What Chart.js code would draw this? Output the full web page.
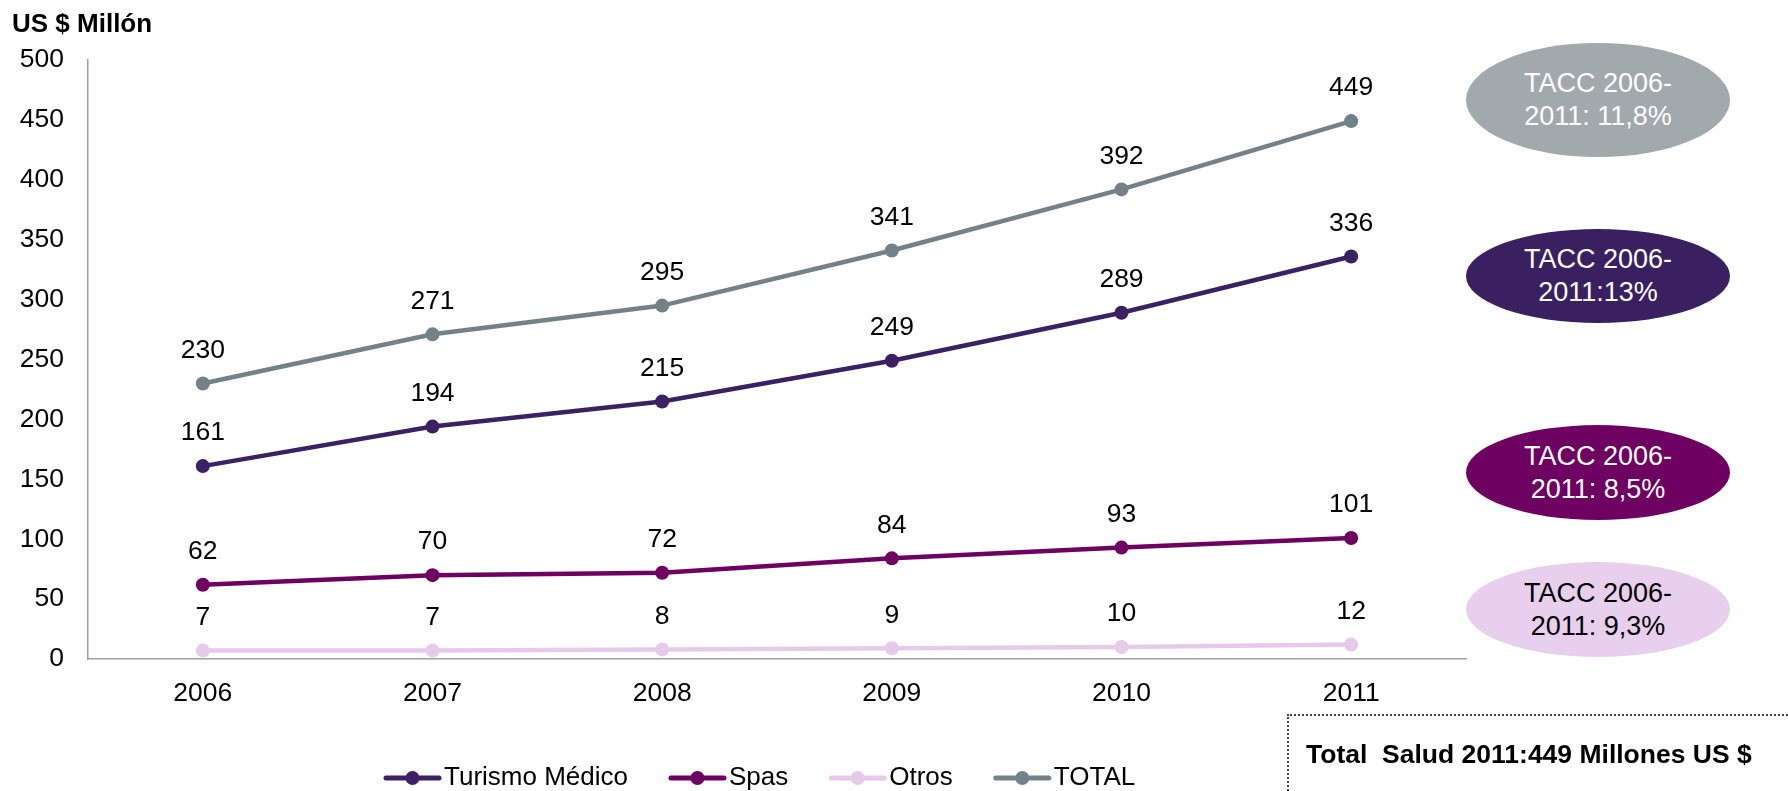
<!DOCTYPE html>
<html>
<head>
<meta charset="utf-8">
<script src="https://cdn.jsdelivr.net/npm/chart.js@4.4.0/dist/chart.umd.min.js"></script>
<style>
  body { margin: 0; background: #fff; font-family: "Liberation Sans", Arial, sans-serif; }
  #wrap { position: relative; width: 1788px; height: 791px; overflow: hidden; }
  #chart { position: absolute; left: 0; top: 0; }
  .title { position: absolute; left: 12px; top: 8px; font-size: 26px; font-weight: bold; color: #000; }
  .tacc {
    position: absolute; left: 1466px; width: 264px; border-radius: 50%;
    display: flex; align-items: center; justify-content: center; text-align: center;
    font-size: 27px; line-height: 33px; color: #fff;
  }
  .total-box {
    position: absolute; left: 1287px; top: 714px; width: 600px; height: 200px;
    border: 2px dotted #444; box-sizing: border-box;
  }
  .total-box span {
    position: absolute; left: 17px; top: 23px; font-size: 26.5px; font-weight: bold; white-space: pre;
  }
</style>
</head>
<body>
<div id="wrap">
  <canvas id="chart" width="1788" height="791"></canvas>
  <div class="title">US $ Millón</div>
  <div class="tacc" style="top:43px;height:114px;background:#a1a9ad;">TACC 2006-<br>2011: 11,8%</div>
  <div class="tacc" style="top:229px;height:94px;background:#3a2060;">TACC 2006-<br>2011:13%</div>
  <div class="tacc" style="top:425px;height:95px;background:#6e0062;">TACC 2006-<br>2011: 8,5%</div>
  <div class="tacc" style="top:562px;height:95px;background:#e8cfee;color:#000;">TACC 2006-<br>2011: 9,3%</div>
  <div class="total-box"><span>Total  Salud 2011:449 Millones US $</span></div>
</div>
<script>
  "use strict";

  // data
  const years = ['2006', '2007', '2008', '2009', '2010', '2011'];
  const turismoMedico = [161, 194, 215, 249, 289, 336];
  const spas = [62, 70, 72, 84, 93, 101];
  const otros = [7, 7, 8, 9, 10, 12];
  const total = [230, 271, 295, 341, 392, 449];
  const seriesNames = ['Turismo Médico', 'Spas', 'Otros', 'TOTAL'];
  const seriesColors = ['#3b2163', '#6d0061', '#e5cbe9', '#738189'];

  const FONT = '"Liberation Sans", Arial, sans-serif';

  // value above every point
  const valueLabels = {
    id: 'valueLabels',
    afterDatasetsDraw(chart) {
      const ctx = chart.ctx;
      ctx.save();
      ctx.font = '26.5px ' + FONT;
      ctx.fillStyle = '#000';
      ctx.textAlign = 'center';
      ctx.textBaseline = 'middle';
      chart.data.datasets.forEach((ds, i) => {
        chart.getDatasetMeta(i).data.forEach((pt, j) => {
          ctx.fillText(ds.data[j], pt.x, pt.y - 33);
        });
      });
      ctx.restore();
    }
  };

  // legend row at the bottom, line + dot + name
  const bottomLegend = {
    id: 'bottomLegend',
    afterDraw(chart) {
      const ctx = chart.ctx;
      const y = 778;
      let x = 386;
      ctx.save();
      ctx.font = '26px ' + FONT;
      ctx.textBaseline = 'middle';
      ctx.textAlign = 'left';
      chart.data.datasets.forEach((ds) => {
        ctx.strokeStyle = ds.borderColor;
        ctx.fillStyle = ds.borderColor;
        ctx.lineWidth = 5;
        ctx.lineCap = 'round';
        ctx.beginPath();
        ctx.moveTo(x, y);
        ctx.lineTo(x + 53, y);
        ctx.stroke();
        ctx.beginPath();
        ctx.arc(x + 26.5, y, 7, 0, Math.PI * 2);
        ctx.fill();
        ctx.fillStyle = '#000';
        ctx.fillText(ds.label, x + 58, y);
        x += 58 + ctx.measureText(ds.label).width + 43;
      });
      ctx.restore();
    }
  };

  const seriesData = [turismoMedico, spas, otros, total];

  try {
    var ctx = document.getElementById('chart');
    new Chart(ctx, {
      type: 'line',
      data: {
        labels: years,
        datasets: seriesData.map((d, i) => ({
          label: seriesNames[i],
          data: d,
          borderColor: seriesColors[i],
          backgroundColor: seriesColors[i],
          pointBackgroundColor: seriesColors[i],
          pointBorderColor: seriesColors[i],
          borderWidth: 4.5,
          pointRadius: 7,
          pointBorderWidth: 0,
          tension: 0,
          fill: false
        }))
      },
      options: {
        responsive: false,
        animation: false,
        layout: {
          padding: { left: 0, right: 322, top: 60, bottom: 0 }
        },
        plugins: {
          legend: { display: false },
          tooltip: { enabled: false }
        },
        scales: {
          x: {
            offset: true,
            grid: { display: false, drawTicks: false },
            border: { display: true, color: '#a0a0a0', width: 1.5 },
            ticks: { color: '#000', font: { size: 26.5, family: FONT }, padding: 19 },
            afterFit(scale) { scale.height = 132; }
          },
          y: {
            min: 0,
            max: 500,
            grid: { display: false, drawTicks: false },
            border: { display: true, color: '#a0a0a0', width: 1.5 },
            ticks: { stepSize: 50, color: '#000', font: { size: 26.5, family: FONT }, padding: 24 },
            afterFit(scale) { scale.width = 88; }
          }
        }
      },
      plugins: [valueLabels, bottomLegend]
    });
  } catch (error) {
    console.log(error);
  }
</script>
</body>
</html>
